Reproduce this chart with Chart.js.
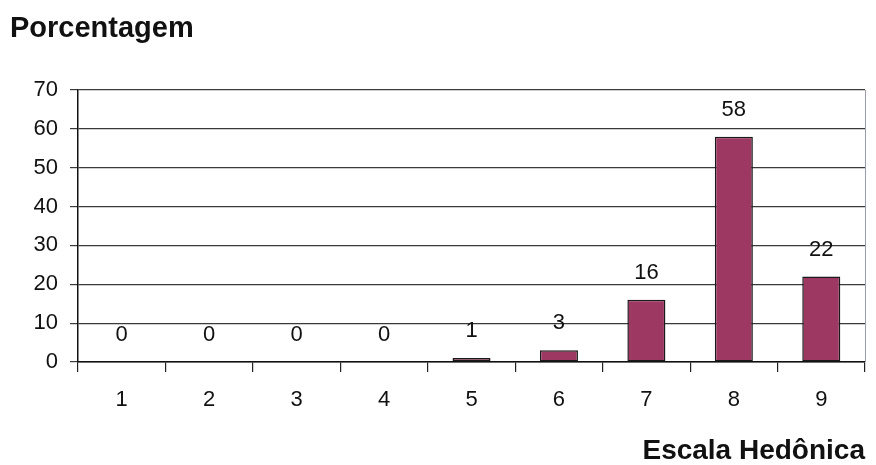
<!DOCTYPE html>
<html>
<head>
<meta charset="utf-8">
<script src="https://cdn.jsdelivr.net/npm/chart.js@4/dist/chart.umd.min.js"></script>
<style>
  html, body { margin: 0; padding: 0; background: #ffffff; }
  #wrap { width: 876px; height: 465px; }
</style>
</head>
<body>
<div id="wrap"><canvas id="c" width="876" height="465"></canvas></div>
<script>
// Hedonic scale categories and the share of answers (%) for each
const categories = ['1', '2', '3', '4', '5', '6', '7', '8', '9'];
const percentages = [0, 0, 0, 0, 1, 3, 16, 58, 22];
const yTicks = [0, 10, 20, 30, 40, 50, 60, 70];

const FONT = "'Liberation Sans', Arial, Helvetica, sans-serif";

// Writes each bar's value above it
const valueLabels = {
  id: 'valueLabels',
  afterDatasetsDraw(chart) {
    const ctx = chart.ctx;
    const meta = chart.getDatasetMeta(0);
    ctx.save();
    ctx.font = '22px ' + FONT;
    ctx.fillStyle = '#111111';
    ctx.textAlign = 'center';
    ctx.textBaseline = 'middle';
    meta.data.forEach((bar, i) => {
      ctx.fillText(String(percentages[i]), bar.x, bar.y - 27);
    });
    ctx.restore();
  }
};

// Thin frame line on the right of the plot area
const rightFrame = {
  id: 'rightFrame',
  beforeDatasetsDraw(chart) {
    const { ctx, chartArea } = chart;
    ctx.save();
    ctx.strokeStyle = '#9a9db0';
    ctx.lineWidth = 1;
    ctx.beginPath();
    ctx.moveTo(Math.round(chartArea.right) + 0.5, chartArea.top);
    ctx.lineTo(Math.round(chartArea.right) + 0.5, chartArea.bottom);
    ctx.stroke();
    ctx.restore();
  }
};

new Chart(document.getElementById('c'), {
  type: 'bar',
  data: {
    labels: categories,
    datasets: [{
      data: percentages,
      backgroundColor: '#9c3862',
      borderColor: '#1a1a1a',
      borderWidth: 1.5,
      borderSkipped: false,
      barPercentage: 0.435,
      categoryPercentage: 1.0
    }]
  },
  options: {
    responsive: false,
    animation: false,
    devicePixelRatio: 1,
    layout: { padding: { left: 10, right: 11, top: 0, bottom: 0 } },
    plugins: {
      legend: { display: false },
      tooltip: { enabled: false },
      title: {
        display: true,
        text: 'Porcentagem',
        align: 'start',
        color: '#111111',
        font: { family: FONT, size: 29, weight: 'bold', lineHeight: 1 },
        padding: { top: 14, bottom: 47 }
      }
    },
    scales: {
      x: {
        type: 'category',
        afterFit(scale) { scale.height = 103; },
        grid: {
          offset: true,
          drawOnChartArea: false,
          drawTicks: true,
          tickLength: 10,
          color: '#222222',
          lineWidth: 1.2
        },
        border: { display: true, color: '#111111', width: 1.5 },
        ticks: {
          color: '#111111',
          font: { family: FONT, size: 22 },
          padding: 15
        },
        title: {
          display: true,
          text: 'Escala Hedônica',
          align: 'end',
          color: '#111111',
          font: { family: FONT, size: 28, weight: 'bold', lineHeight: 1 },
          padding: { top: 0, bottom: 0 }
        }
      },
      y: {
        min: 0,
        max: 70,
        afterFit(scale) { scale.width = 68; },
        afterBuildTicks(scale) { scale.ticks = yTicks.map(v => ({ value: v })); },
        grid: {
          color: '#3a3a3a',
          lineWidth: 1.2,
          drawTicks: true,
          tickLength: 8
        },
        border: { display: true, color: '#111111', width: 1.5 },
        ticks: {
          color: '#111111',
          font: { family: FONT, size: 22 },
          padding: 12
        }
      }
    }
  },
  plugins: [valueLabels, rightFrame]
});
</script>
</body>
</html>
